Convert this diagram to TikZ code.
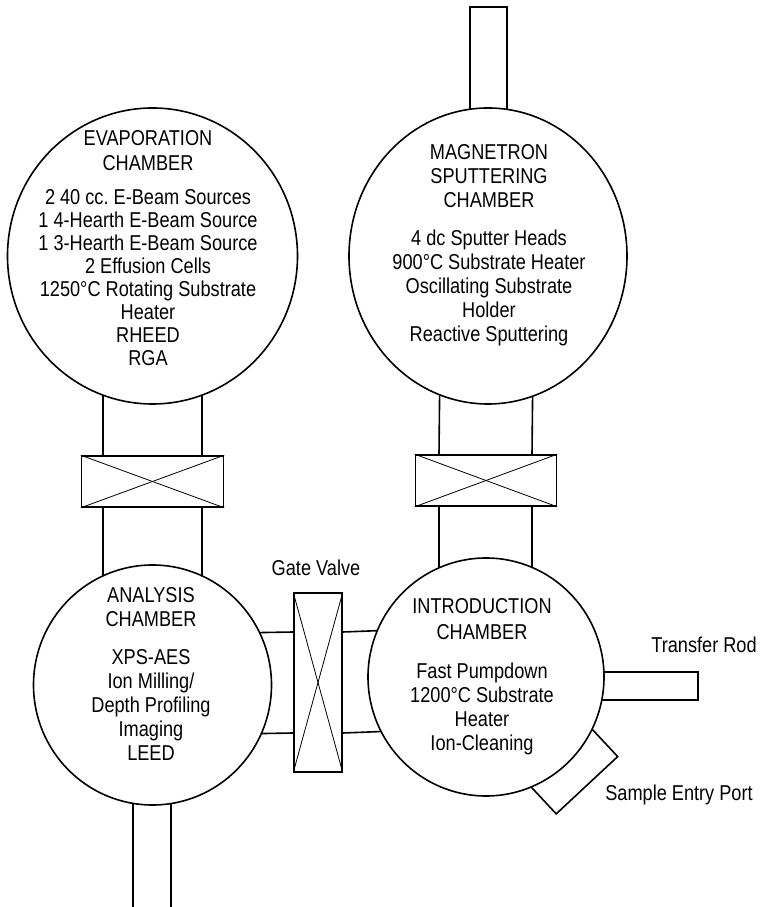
\documentclass[tikz,border=0pt]{standalone}
\usepackage{fontspec}
\newfontfamily\labelfont{Liberation Sans}[FakeStretch=0.845]
\usetikzlibrary{shapes.geometric, backgrounds, calc}

\begin{document}
\begin{tikzpicture}[x=1pt, y=1pt, line join=round,
    chamber/.style={ellipse, draw, line width=1.6pt, fill=white, inner sep=0pt},
    valve/.style={rectangle, draw, line width=1.6pt, fill=white, inner sep=0pt},
    tube/.style={line width=1.6pt},
    chambertext/.style={anchor=north, align=center, inner sep=0pt,
      font=\labelfont\fontsize{21.5}{24}\selectfont},
    tag/.style={inner sep=0pt, font=\labelfont\fontsize{21.5}{24}\selectfont}]
  \useasboundingbox (0,0) rectangle (760,907);

  % chambers
  \node[chamber, minimum width=290, minimum height=296] (evap) at (152.5,651) {};
  \node[chamber, minimum width=278, minimum height=296] (mag) at (488,651) {};
  \node[chamber, minimum width=238, minimum height=240] (anal) at (152.5,222) {};
  \node[chamber, minimum width=236, minimum height=238] (intro) at (486,230) {};

  % valves
  \node[valve, minimum width=142, minimum height=51] (evapvalve) at (152.5,425.5) {};
  \node[valve, minimum width=141, minimum height=51] (magvalve) at (486,426.5) {};
  \node[valve, minimum width=48, minimum height=179] (gate) at (318,224.5) {};

  \draw[line width=0.8pt] (evapvalve.north west) -- (evapvalve.south east);
  \draw[line width=0.8pt] (evapvalve.south west) -- (evapvalve.north east);
  \draw[line width=0.8pt] (magvalve.north west) -- (magvalve.south east);
  \draw[line width=0.8pt] (magvalve.south west) -- (magvalve.north east);
  \draw[line width=0.8pt] (gate.north west) -- (gate.south east);
  \draw[line width=0.8pt] (gate.south west) -- (gate.north east);

  % tubes, hidden inside the chambers
  \begin{scope}[on background layer]
    \draw[tube] ($(evap.center)+(-49.5,0)$) -- ($(evapvalve.north)+(-49.5,0)$);
    \draw[tube] ($(evap.center)+(49.5,0)$) -- ($(evapvalve.north)+(49.5,0)$);
    \draw[tube] ($(evapvalve.south)+(-49.5,0)$) -- ($(anal.center)+(-49.5,0)$);
    \draw[tube] ($(evapvalve.south)+(49.5,0)$) -- ($(anal.center)+(49.5,0)$);

    \draw[tube] ($(mag.center)+(-47,0)$) -- ($(magvalve.north)+(-47,0)$);
    \draw[tube] ($(mag.center)+(46,0)$) -- ($(magvalve.north)+(46,0)$);
    \draw[tube] ($(magvalve.south)+(-47,0)$) -- ($(intro.center)+(-47,0)$);
    \draw[tube] ($(magvalve.south)+(46,0)$) -- ($(intro.center)+(46,0)$);

    \draw[tube] ($(anal.center)+(0,50.5)$) -- ($(gate.west)+(0,50.5)$);
    \draw[tube] ($(anal.center)+(0,-50.5)$) -- ($(gate.west)+(0,-50.5)$);
    \draw[tube] ($(gate.east)+(0,50.5)$) -- ($(intro.center)+(0,50.5)$);
    \draw[tube] ($(gate.east)+(0,-50.5)$) -- ($(intro.center)+(0,-50.5)$);

    % top port and bottom pump line
    \draw[tube] (mag.center -| 470,0) -- (470,900) -- (507,900) -- (mag.center -| 507,0);
    \draw[tube] (anal.center -| 133,0) -- (133,0);
    \draw[tube] (anal.center -| 171,0) -- (171,0);

    % transfer rod
    \draw[tube] ($(intro.center)+(0,5)$) -- (698,235) -- (698,207) -- ($(intro.center)+(0,-23)$);

    % sample entry port
    \begin{scope}[shift={(intro.center)}, rotate=-47]
      \draw[tube] (90,42) -- (148,42) -- (148,-42) -- (90,-42);
    \end{scope}
  \end{scope}

  % chamber texts
  \node[chambertext, font=\labelfont\fontsize{21.5}{23}\selectfont] (evaptext) at (148,776.5)
    {EVAPORATION\\[2pt] CHAMBER\\[11pt]
     2 40 cc.\ E-Beam Sources\\ 1 4-Hearth E-Beam Source\\ 1 3-Hearth E-Beam Source\\
     2 Effusion Cells\\ 1250°C Rotating Substrate\\ Heater\\ RHEED\\ RGA};
  \node[chambertext] (magtext) at (489,762.5)
    {MAGNETRON\\ SPUTTERING\\ CHAMBER\\[14pt]
     4 dc Sputter Heads\\ 900°C Substrate Heater\\ Oscillating Substrate\\
     Holder\\ Reactive Sputtering};
  \node[chambertext] (analtext) at (151,319.5)
    {ANALYSIS\\ CHAMBER\\[14pt]
     XPS-AES\\ Ion Milling/\\ Depth Profiling\\ Imaging\\ LEED};
  \node[chambertext] (introtext) at (482,308.5)
    {INTRODUCTION\\[2pt] CHAMBER\\[15pt]
     Fast Pumpdown\\ 1200°C Substrate\\ Heater\\ Ion-Cleaning};

  % part names
  \node[tag] (gatelabel) at (316,339) {Gate Valve};
  \node[tag] (rodlabel) at (704,262) {Transfer Rod};
  \node[tag] (portlabel) at (679,112) {Sample Entry Port};
\end{tikzpicture}
\end{document}
